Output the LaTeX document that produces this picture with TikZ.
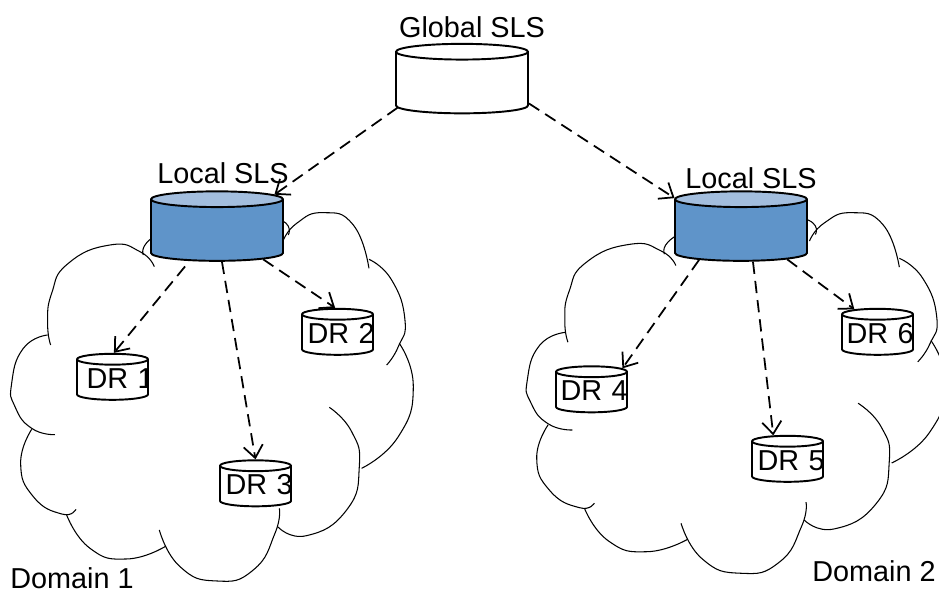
\documentclass[tikz,border=0pt]{standalone}
\usepackage{fontspec}
\setmainfont{Liberation Sans}
\usetikzlibrary{shapes.geometric, arrows.meta}
\tikzstyle{drum} = [draw, line width=1.1pt, cylinder, shape border rotate=90, cylinder uses custom fill, cylinder body fill=white, cylinder end fill=white, inner sep=0pt]
\tikzstyle{sls} = [drum, text width=2.62cm, minimum width=2.64cm, minimum height=1.39cm, shape aspect=.12]
\tikzstyle{dr} = [drum, text width=1.4cm, minimum width=1.42cm, minimum height=.92cm, shape aspect=.155]
\tikzstyle{filled} = [cylinder body fill=bodyblue, cylinder end fill=endblue]
\tikzstyle{txt} = [font=\fontsize{16.4}{18}\selectfont, inner sep=0pt]
\tikzstyle{link} = [->, >={Straight Barb[length=7pt, width=11pt]}, dashed, dash pattern=on 7pt off 4pt, line width=1pt]
\tikzset{drtext/.style 2 args={path picture={\node[txt] at ([xshift=#1, yshift=-.03cm]path picture bounding box.center) {#2};}}}
\definecolor{bodyblue}{RGB}{95,148,201}
\definecolor{endblue}{RGB}{163,190,222}
% one lobe per line
\newcommand{\cloudlobes}{
    \draw plot[smooth, tension=.9] coordinates {(152,495) (143,430) (155,340) (205,250) (330,195) (420,215) (463,260)};
    \draw plot[smooth, tension=.9] coordinates {(430,225) (470,165) (650,100) (830,115) (865,165)};
    \draw plot[smooth, tension=.9] coordinates {(848,185) (890,130) (970,98) (1060,135) (1107,265)};
    \draw plot[smooth, tension=.9] coordinates {(1107,238) (1175,300) (1215,420) (1195,500) (1160,555)};
    \draw plot[smooth, tension=.9] coordinates {(1198,490) (1240,620) (1195,770) (1085,865)};
    \draw plot[smooth, tension=.9] coordinates {(988,682) (1055,755) (1078,860) (1040,990) (920,1067) (833,1040)};
    \draw plot[smooth, tension=.9] coordinates {(838,985) (825,1060) (760,1170) (650,1203) (540,1160) (478,1050)};
    \draw plot[smooth, tension=.9] coordinates {(495,1100) (380,1137) (270,1105) (200,1005)};
    \draw plot[smooth, tension=.9] coordinates {(228,988) (185,1002) (100,950) (62,850) (95,748)};
    \draw plot[smooth, tension=.9] coordinates {(165,764) (95,745) (45,680) (35,610) (70,505) (143,465)};
}

\begin{document}
\begin{tikzpicture}[x=.02cm, y=-.02cm]
    \useasboundingbox (0,0) rectangle (939,593);
    \begin{scope}[shift={(0,180)}, xscale=.3333, yscale=.3333, line width=.6pt]
        \cloudlobes
    \end{scope}
    \begin{scope}[shift={(515.2,180.7)}, xscale=.347, yscale=.3263, line width=.6pt]
        \cloudlobes
    \end{scope}

    \draw (462,83) node[sls] (global) {};
    \draw (217,230.5) node[sls, filled] (local1) {};
    \draw (741,230.5) node[sls, filled] (local2) {};
    \draw (112.5,380) node[dr, drtext={9*.02cm}{DR 1}] (dr1) {};
    \draw (337.5,335) node[dr, drtext={5*.02cm}{DR 2}] (dr2) {};
    \draw (255.5,486.5) node[dr, drtext={5*.02cm}{DR 3}] (dr3) {};
    \draw (591.5,392.5) node[dr, drtext={4*.02cm}{DR 4}] (dr4) {};
    \draw (787.5,462) node[dr, drtext={5*.02cm}{DR 5}] (dr5) {};
    \draw (877.5,335) node[dr, drtext={4*.02cm}{DR 6}] (dr6) {};

    \draw (472,27) node[txt] (globaltxt) {Global SLS};
    \draw (223,173) node[txt] (local1txt) {Local SLS};
    \draw (751,178) node[txt] (local2txt) {Local SLS};
    \draw (72,578) node[txt] (domain1) {Domain 1};
    \draw (874,571) node[txt] (domain2) {Domain 2};

    \draw[link] (global.201) -- (local1.32);
    \draw[link] (global.-17) -- (local2.154);
    \draw[link, shorten <=4pt] (local1.228) -- (dr1.87);
    \draw[link] (local1.-81) -- (dr3.90);
    \draw[link] (local1.-32) -- (dr2.95);
    \draw[link] (local2.215) -- (dr4.38);
    \draw[link] (local2.-69) -- (dr5.118);
    \draw[link] (local2.-32) -- (dr6.132);
\end{tikzpicture}
\end{document}
